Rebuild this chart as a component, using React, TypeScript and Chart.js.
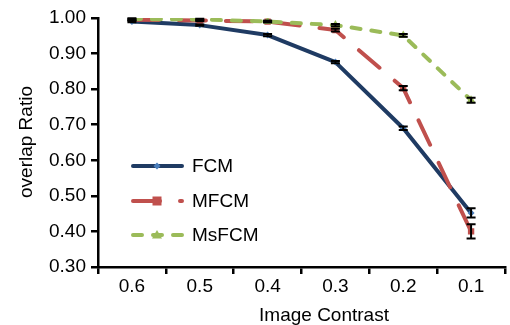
import React, { useEffect, useRef } from "react";
import { Chart, registerables } from "chart.js";

Chart.register(...registerables);

const categories = ["0.6", "0.5", "0.4", "0.3", "0.2", "0.1"];
const fcm = [0.99, 0.98, 0.952, 0.876, 0.69, 0.452];
const mfcm = [0.995, 0.993, 0.99, 0.966, 0.803, 0.4];
const msfcm = [0.997, 0.996, 0.99, 0.98, 0.951, 0.769];
const fcmErr = [0.002, 0.002, 0.003, 0.003, 0.005, 0.013];
const mfcmErr = [0.002, 0.002, 0.002, 0.004, 0.006, 0.02];
const msfcmErr = [0.002, 0.002, 0.002, 0.003, 0.004, 0.007];
const seriesNames = ["FCM", "MFCM", "MsFCM"];
const yTitle = "overlap Ratio";
const xTitle = "Image Contrast";

const FONT = "'Liberation Sans', Arial, sans-serif";
const NAVY = "#1F3B63";
const BLUE = "#4A7EBB";
const RED = "#C0504D";
const GREEN = "#9BBB59";

const styles = [
  { color: NAVY, point: BLUE, dash: [] as number[], shape: "rectRot", r: 3.5 },
  { color: RED, point: RED, dash: [27, 20], shape: "rect", r: 4.5 },
  { color: GREEN, point: GREEN, dash: [9, 11], shape: "triangle", r: 5 },
];
const errs = [fcmErr, mfcmErr, msfcmErr];

export default function App() {
  const ref = useRef<HTMLCanvasElement>(null);
  useEffect(() => {
    function drawMarker(ctx: any, shape: string, x: number, y: number, r: number) {
      ctx.beginPath();
      if (shape === "rectRot") {
        ctx.moveTo(x, y - r);
        ctx.lineTo(x + r, y);
        ctx.lineTo(x, y + r);
        ctx.lineTo(x - r, y);
      } else if (shape === "rect") {
        ctx.rect(x - r, y - r, 2 * r, 2 * r);
      } else {
        ctx.moveTo(x, y - r);
        ctx.lineTo(x + r, y + r * 0.7);
        ctx.lineTo(x - r, y + r * 0.7);
      }
      ctx.closePath();
      ctx.fill();
    }

    const extras = {
      id: "extras",
      afterDatasetsDraw(chart: any) {
        const ctx = chart.ctx;
        const xs = chart.scales.x;
        const ys = chart.scales.y;
        ctx.save();
        ctx.strokeStyle = "#000";
        ctx.lineWidth = 2;
        chart.data.datasets.forEach((ds: any, i: number) => {
          ds.data.forEach((v: number, j: number) => {
            const e = errs[i][j];
            const x = xs.getPixelForValue(j);
            const y1 = ys.getPixelForValue(v + e);
            const y2 = ys.getPixelForValue(v - e);
            ctx.beginPath();
            ctx.moveTo(x, y1);
            ctx.lineTo(x, y2);
            ctx.moveTo(x - 4.5, y1);
            ctx.lineTo(x + 4.5, y1);
            ctx.moveTo(x - 4.5, y2);
            ctx.lineTo(x + 4.5, y2);
            ctx.stroke();
          });
        });
        ctx.restore();
      },
      afterDraw(chart: any) {
        const ctx = chart.ctx;
        ctx.save();
        const ly = [166, 201, 235];
        seriesNames.forEach((name, i) => {
          const s = styles[i];
          ctx.strokeStyle = s.color;
          ctx.lineWidth = 4;
          ctx.lineCap = "round";
          ctx.setLineDash(s.dash);
          ctx.beginPath();
          ctx.moveTo(133, ly[i]);
          ctx.lineTo(182, ly[i]);
          ctx.stroke();
          ctx.setLineDash([]);
          ctx.fillStyle = s.point;
          drawMarker(ctx, s.shape, 157, ly[i], s.r);
          ctx.fillStyle = "#000";
          ctx.font = `19px ${FONT}`;
          ctx.textBaseline = "middle";
          ctx.textAlign = "left";
          ctx.fillText(name, 192, ly[i] + 1);
        });
        ctx.fillStyle = "#000";
        ctx.font = `19px ${FONT}`;
        ctx.textAlign = "center";
        ctx.textBaseline = "alphabetic";
        ctx.fillText(xTitle, 324, 321);
        ctx.translate(32, 142);
        ctx.rotate(-Math.PI / 2);
        ctx.fillText(yTitle, 0, 0);
        ctx.restore();
      },
    };

    const values = [fcm, mfcm, msfcm];
    const chart = new Chart(ref.current!, {
      type: "line",
      data: {
        labels: categories,
        datasets: values.map((d, i) => ({
          label: seriesNames[i],
          data: d,
          borderColor: styles[i].color,
          backgroundColor: styles[i].point,
          pointBackgroundColor: styles[i].point,
          pointBorderColor: styles[i].point,
          pointBorderWidth: 0,
          pointStyle: styles[i].shape as any,
          pointRadius: styles[i].r,
          borderWidth: 4,
          borderDash: styles[i].dash,
          borderCapStyle: "round",
          borderJoinStyle: "round",
          tension: 0,
          order: 3 - i,
        })),
      },
      options: {
        animation: false,
        responsive: true,
        maintainAspectRatio: false,
        layout: { padding: { left: 0, top: 18, right: 4, bottom: 0 } },
        plugins: { legend: { display: false }, tooltip: { enabled: false } },
        scales: {
          x: {
            offset: true,
            grid: {
              offset: true,
              drawOnChartArea: false,
              drawTicks: true,
              tickLength: 7,
              color: "#000",
              lineWidth: 2.5,
            },
            border: { display: true, color: "#000", width: 2.5 },
            ticks: { color: "#000", font: { family: FONT, size: 19 }, padding: 1 },
            afterFit: (s: any) => {
              s.height = 58;
            },
          },
          y: {
            min: 0.3,
            max: 1.0,
            grid: {
              drawOnChartArea: false,
              drawTicks: true,
              tickLength: 7,
              color: "#000",
              lineWidth: 2.5,
            },
            border: { display: true, color: "#000", width: 2.5 },
            ticks: {
              stepSize: 0.1,
              color: "#000",
              font: { family: FONT, size: 19 },
              padding: 5,
              callback: (v: any) => Number(v).toFixed(2),
            },
            afterFit: (s: any) => {
              s.width = 98;
            },
          },
        },
      },
      plugins: [extras],
    });
    return () => chart.destroy();
  }, []);
  return (
    <div style={{ position: "fixed", left: 0, top: 0, width: 510, height: 325, background: "#fff" }}>
      <canvas ref={ref} />
    </div>
  );
}
